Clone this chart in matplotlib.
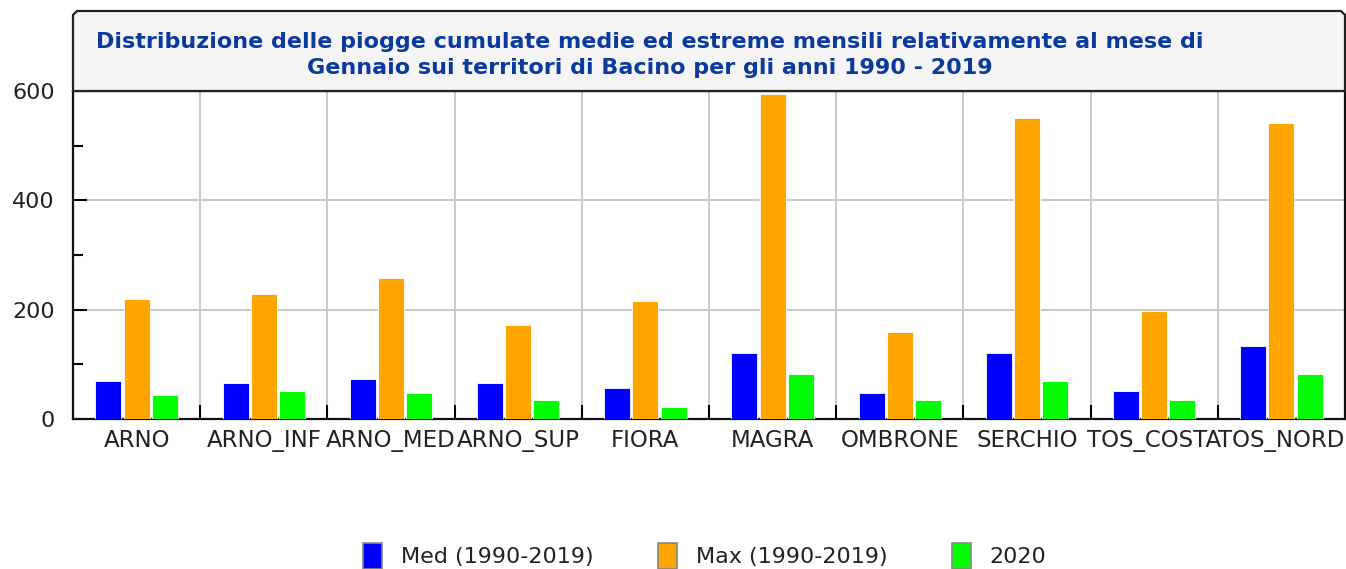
import matplotlib
matplotlib.use("Agg")
import matplotlib.pyplot as plt
import numpy as np
from matplotlib.patches import Polygon, Patch

categories = ["ARNO", "ARNO_INF", "ARNO_MED", "ARNO_SUP", "FIORA", "MAGRA",
              "OMBRONE", "SERCHIO", "TOS_COSTA", "TOS_NORD"]
med = [69, 65, 73, 66, 57, 121, 48, 121, 52, 134]
mx = [219, 228, 258, 172, 216, 594, 159, 551, 198, 542]
y2020 = [43, 52, 47, 35, 22, 82, 35, 70, 35, 82]
series_labels = ["Med (1990-2019)", "Max (1990-2019)", "2020"]
colors = ["#0000ff", "#ffa500", "#00ff00"]
title_lines = ["Distribuzione delle piogge cumulate medie ed estreme mensili relativamente al mese di",
               "Gennaio sui territori di Bacino per gli anni 1990 - 2019"]

W, H = 1346, 569
fig = plt.figure(figsize=(W / 100, H / 100), dpi=100)
left, right, top, bottom = 73, 1345, 91, 419
ax = fig.add_axes([left / W, 1 - bottom / H, (right - left) / W, (bottom - top) / H])

x = np.arange(len(categories))
bw = 0.205
step = 0.222
for i, (vals, c) in enumerate(zip([med, mx, y2020], colors)):
    ax.bar(x + (i - 1) * step, vals, width=bw, color=c, edgecolor="#ffffff",
           linewidth=0.6, zorder=3)

ax.set_xlim(-0.5, len(categories) - 0.5)
ax.set_ylim(0, 600)

# grid
for b in np.arange(0.5, len(categories) - 0.5, 1.0):
    ax.axvline(b, color="#c8c8c8", lw=1.4, zorder=1)
for yv in [200, 400]:
    ax.axhline(yv, color="#c8c8c8", lw=1.4, zorder=1)

ax.set_yticks([0, 200, 400, 600])
ax.set_yticks([100, 300, 500], minor=True)
ax.tick_params(axis="y", which="major", direction="in", length=10, width=1.5,
               labelsize=16, pad=13)
ax.tick_params(axis="y", which="minor", direction="in", length=7, width=1.5)
ax.set_xticks(x)
ax.set_xticklabels(categories)
ax.tick_params(axis="x", which="major", length=0, labelsize=16.5, pad=7)
ax.set_xticks(np.arange(0.5, len(categories) - 0.5, 1.0), minor=True)
ax.tick_params(axis="x", which="minor", direction="in", length=10, width=1.5)
for lbl in ax.get_xticklabels() + ax.get_yticklabels():
    lbl.set_color("#222222")

for s in ["left", "bottom", "right", "top"]:
    ax.spines[s].set_linewidth(1.6)
    ax.spines[s].set_color("#111111")

# title box
tb_top = 11
c = 4
pts = [(left, top), (left, tb_top + c), (left + c, tb_top), (right - c, tb_top),
       (right, tb_top + c), (right, top)]
pts_fig = [(px / W, 1 - py / H) for px, py in pts]
poly = Polygon(pts_fig, closed=True, transform=fig.transFigure, facecolor="#f4f4f4",
               edgecolor="#222222", linewidth=1.6, zorder=0)
fig.patches.append(poly)
for line, yy in zip(title_lines, [42, 68]):
    fig.text(650 / W, 1 - yy / H, line, ha="center", va="center", fontsize=16,
             fontweight="bold", color="#0b3a9c")

handles = [Patch(facecolor=c, edgecolor="#888888", linewidth=1.2) for c in colors]
fig.legend(handles, series_labels, loc="center", bbox_to_anchor=(705 / W, 1 - 556 / H),
           ncol=3, frameon=False, fontsize=16, handlelength=0.85, handleheight=1.4,
           handletextpad=0.85, columnspacing=2.9, labelcolor="#222222")

fig.savefig("out.png", dpi=100)
